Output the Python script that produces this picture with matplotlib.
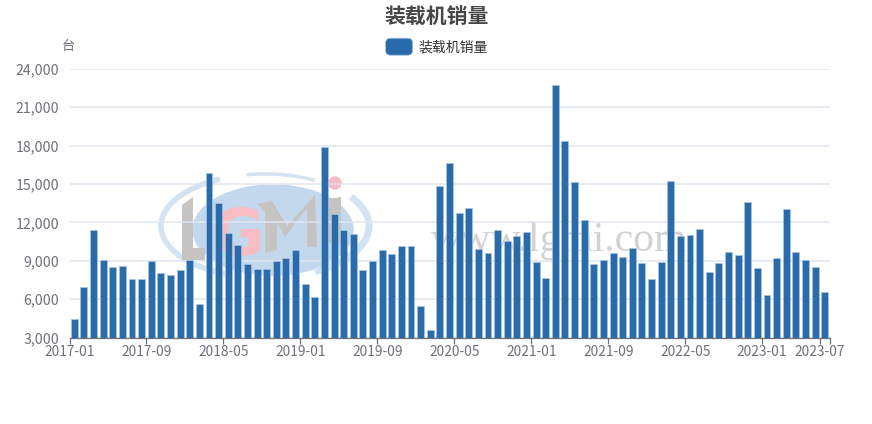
import matplotlib
matplotlib.use('Agg')
import matplotlib.pyplot as plt
from matplotlib.patches import Arc, Ellipse, FancyBboxPatch, Polygon
from matplotlib.legend_handler import HandlerPatch
from matplotlib.ticker import FuncFormatter

plt.rcParams['font.family'] = ['Noto Sans CJK SC', 'DejaVu Sans']

# monthly sales, 2017-01 .. 2023-07
sales_2017 = [4456, 6978, 11398, 9032, 8486, 8564, 7602, 7602, 8980, 8070, 7888, 8252]
sales_2018 = [9032, 5652, 15870, 13504, 11164, 10202, 8720, 8330, 8382, 8954, 9240, 9812]
sales_2019 = [7212, 6146, 17924, 12672, 11372, 11112, 8304, 9006, 9812, 9526, 10124, 10176]
sales_2020 = [5496, 3598, 14830, 16650, 12750, 13088, 9890, 9630, 11424, 10566, 10904, 11216]
sales_2021 = [8902, 7628, 22734, 18340, 15116, 12152, 8746, 9032, 9578, 9266, 9968, 8824]
sales_2022 = [7576, 8876, 15272, 10956, 11034, 11450, 8148, 8798, 9656, 9422, 13556, 8408]
sales_2023 = [6328, 9240, 13062, 9656, 9032, 8538, 6562]
sales = sales_2017 + sales_2018 + sales_2019 + sales_2020 + sales_2021 + sales_2022 + sales_2023

tick_pos = [0, 8, 16, 24, 32, 40, 48, 56, 64, 72, 78, 79]
tick_labels = ['2017-01', '2017-09', '2018-05', '2019-01', '2019-09', '2020-05',
               '2021-01', '2021-09', '2022-05', '2023-01', '2023-07', '']
y_ticks = [3000, 6000, 9000, 12000, 15000, 18000, 21000, 24000]

W, H = 872, 424
BAR = '#2a6bac'
TEXT = '#6e7079'

fig = plt.figure(figsize=(W / 100, H / 100), dpi=100)
ax = fig.add_axes([69.5 / W, 1 - 337.7 / H, 760 / W, 269 / H])

x = [i + 0.5 for i in range(len(sales))]
bars = ax.bar(x, [v - 3000 for v in sales], bottom=3000, width=0.72, color=BAR,
              edgecolor='#a9c4de', linewidth=0.5, zorder=3, label='装载机销量')

ax.set_xlim(0, 79)
ax.set_ylim(3000, 24000)
ax.set_yticks(y_ticks)
ax.yaxis.set_major_formatter(FuncFormatter(lambda v, _: f'{int(v):,}'))
ax.set_xticks(tick_pos)
ax.set_xticklabels(tick_labels)
ax.tick_params(axis='y', length=0, labelsize=10.2, labelcolor=TEXT, pad=7.6)
ax.tick_params(axis='x', length=4.5, width=0.9, color='#6e7079', labelsize=9.9,
               labelcolor=TEXT, pad=1)
ax.grid(axis='y', color='#e0e6f1', linewidth=1.1, zorder=1)
ax.set_axisbelow(True)
for s in ['top', 'left', 'right']:
    ax.spines[s].set_visible(False)
ax.spines['bottom'].set_color('#6e7079')
ax.spines['bottom'].set_linewidth(0.9)


# watermark logo, in pixel coordinates of the picture
def px(xp, yp):
    return xp / W, 1 - yp / H


def logo_poly(points, color):
    fig.add_artist(Polygon([px(*p) for p in points], closed=True, color=color, lw=0,
                           zorder=0.6, transform=fig.transFigure))


tr = fig.transFigure
GREY = '#c6c3c3'
fig.add_artist(Ellipse(px(273, 230), 160 / W, 90 / H, color='#c3d8ec', zorder=0.5, transform=tr))
for a1, a2, lw in [(115, 250, 4), (62, 100, 2.5), (-62, 35, 5)]:
    fig.add_artist(Arc(px(265, 226), 208 / W, 104 / H, theta1=a1, theta2=a2, color='#d3e3f1',
                       lw=lw, zorder=0.5, transform=tr))
logo_poly([(182, 205), (193, 197), (193, 248), (205, 248), (205, 260), (182, 260)], GREY)
logo_poly([(257, 204), (272, 201), (287, 226), (315, 195), (317, 247), (307, 247), (307, 208),
           (285, 237), (277, 222), (277, 250), (265, 253), (265, 212)], GREY)
logo_poly([(328, 199), (341, 197), (341, 243), (328, 243)], GREY)
fig.text(*px(212, 255), 'G', fontsize=46, family='DejaVu Sans', fontweight='bold',
         color='#f9bcc4', ha='left', va='baseline', zorder=0.55)
fig.add_artist(Ellipse(px(335, 183), 12 / W, 12 / H, color='#f7b9c1', zorder=0.6, transform=tr))
fig.text(*px(559, 251), 'www.lgmi.com', fontsize=30, family='Liberation Serif',
         color='#d2d2d2', ha='center', va='baseline', zorder=0.6)
ax.patch.set_alpha(0)
ax.set_zorder(1)

ax.text(-1 / 760, 1 + 16 / 269, '台', transform=ax.transAxes, fontsize=9.5, color=TEXT,
        ha='center', va='bottom')

fig.text(437 / W, 1 - 17 / H, '装载机销量', fontsize=15, fontweight='bold', color='#464646',
         ha='center', va='center')


def round_handle(legend, orig_handle, xdescent, ydescent, width, height, fontsize):
    return FancyBboxPatch((-xdescent + 2, -ydescent - 1), width - 4, height + 2,
                          boxstyle='round,pad=0,rounding_size=3.5')


leg = fig.legend(handles=[bars.patches[0]], labels=['装载机销量'], loc='center',
                 bbox_to_anchor=(435.5 / W, 1 - 47 / H), frameon=False, fontsize=10,
                 labelcolor='#333333', handlelength=2.35, handleheight=1.2, handletextpad=0.25,
                 handler_map={bars.patches[0]: HandlerPatch(patch_func=round_handle)})

fig.savefig('out.png', dpi=100)
